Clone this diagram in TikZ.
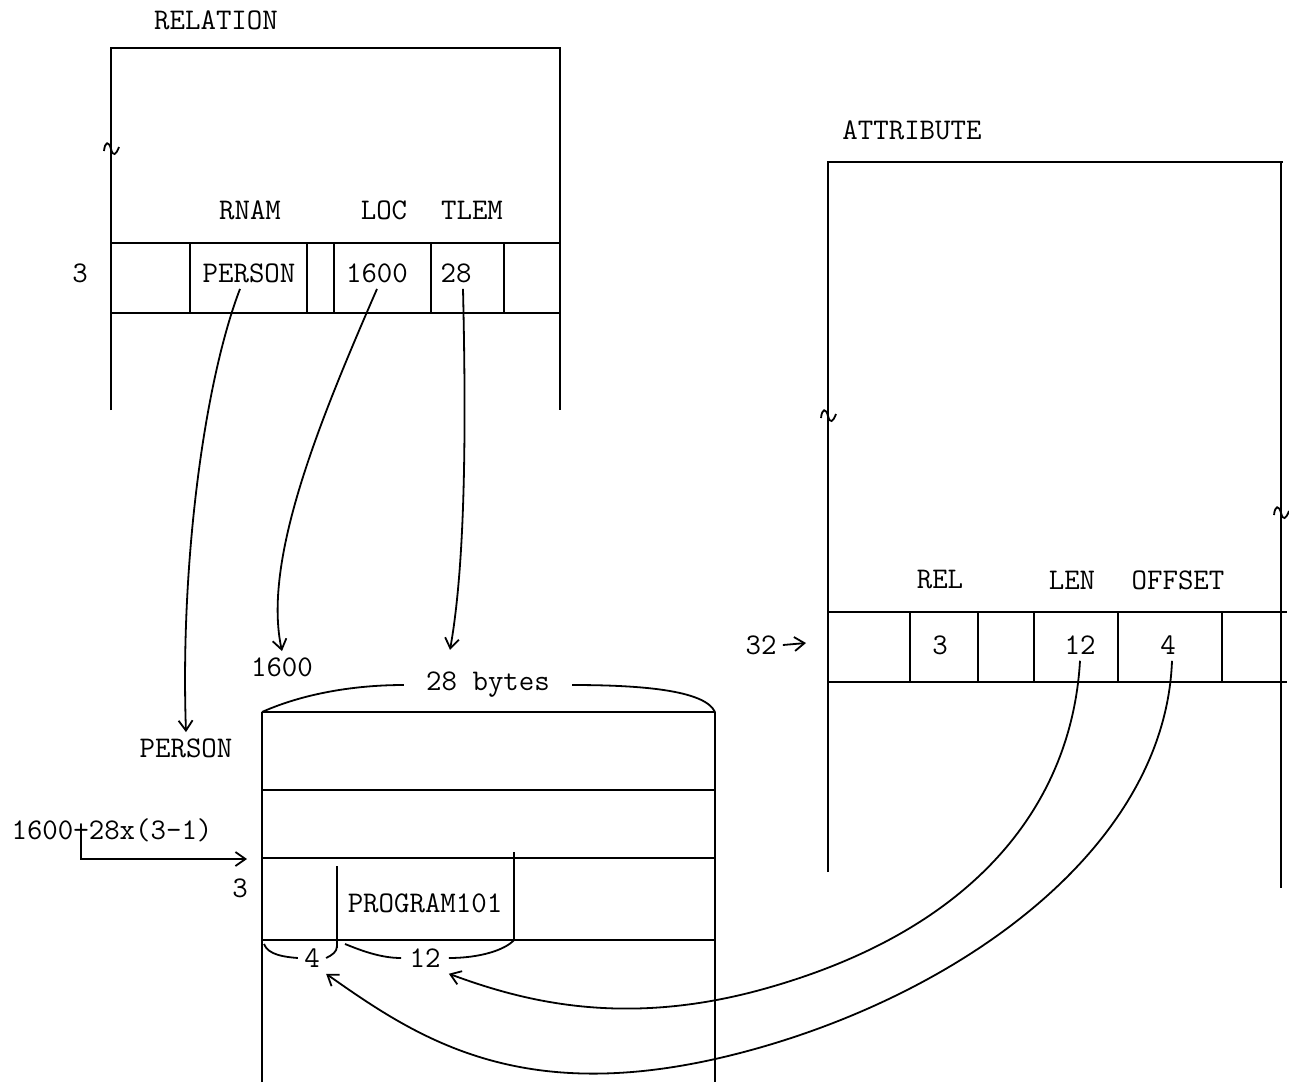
\documentclass[tikz,border=0pt]{standalone}
\usepackage{tikz}
\usetikzlibrary{arrows.meta,positioning}

\begin{document}
\begin{tikzpicture}[x=0.5pt, y=-0.5pt,
    lbl/.style={font=\ttfamily\fontsize{15}{18}\selectfont, inner sep=3pt},
    rule/.style={draw, line width=1pt},
    line/.style={draw, line width=0.9pt, -{Straight Barb[length=5pt,width=7pt]}},
    brace/.style={draw, line width=0.9pt},
    brk/.style={draw, line width=0.9pt}]

    \useasboundingbox (0,0) rectangle (1289,1082);

    % RELATION table
    \node [lbl] (relation) at (216,20) {RELATION};
    \path [rule] (111,410) -- (111,48) -- (560,48) -- (560,410);
    \path [rule] (111,243) -- (560,243) (111,313) -- (560,313);
    \foreach \x in {190,307,334,431,504}
        \path [rule] (\x,243) -- (\x,313);
    \node [lbl] (rnam) at (250,210) {RNAM};
    \node [lbl] (loc) at (384,210) {LOC};
    \node [lbl] (tlem) at (472,210) {TLEM};
    \node [lbl] (rrow) at (80,273) {3};
    \node [lbl] (rperson) at (249,273) {PERSON};
    \node [lbl] (rloc) at (377,273) {1600};
    \node [lbl] (rtlem) at (456,273) {28};

    % ATTRIBUTE table
    \node [lbl] (attribute) at (912,130) {ATTRIBUTE};
    \path [rule] (828,872) -- (828,162) -- (1283,162);
    \path [rule] (1281,162) -- (1281,888);
    \path [rule] (828,612) -- (1287,612) (828,682) -- (1287,682);
    \foreach \x in {910,978,1034,1118,1222}
        \path [rule] (\x,612) -- (\x,682);
    \node [lbl] (rel) at (940,580) {REL};
    \node [lbl] (len) at (1072,580) {LEN};
    \node [lbl] (offset) at (1178,580) {OFFSET};
    \node [lbl] (a32) at (761,645) {32};
    \node [lbl] (arel) at (940,645) {3};
    \node [lbl] (alen) at (1080,645) {12};
    \node [lbl] (aoff) at (1168,645) {4};
    \coordinate (arow) at (806,643);

    % break marks
    \foreach \bx/\by in {111/148, 828/415, 1281/512}
        \path [brk] (\bx,\by) ++(-7,3) .. controls +(1,-10) and +(-2,-8) .. ++(7,-2)
            .. controls +(2,8) and +(-3,8) .. ++(8,-2);

    % PERSON table
    \path [rule] (262,1082) -- (262,712) (715,712) -- (715,1082);
    \foreach \y in {712,790,858,940}
        \path [rule] (262,\y) -- (715,\y);
    \path [rule] (337,866) -- (337,948) (514,852) -- (514,940);
    \node [lbl] (program) at (425,903) {PROGRAM101};
    \node [lbl] (prow) at (240,888) {3};
    \node [lbl] (pperson) at (186,748) {PERSON};
    \node [lbl] (p1600) at (282,667) {1600};
    \node [lbl, inner xsep=11pt] (bytes) at (488,685) {28 bytes};
    \node [lbl] (four) at (312,958) {4};
    \node [lbl, inner xsep=4pt] (twelve) at (425,958) {12};
    \node [lbl] (formula) at (112,830) {1600+28x(3-1)};
    \coordinate (prow3) at (247,859);

    % braces
    \path [brace] (262,712) .. controls (300,695) and (350,685) .. (bytes.west);
    \path [brace] (bytes.east) .. controls (640,685) and (705,690) .. (715,712);
    \path [brace] (264,944) .. controls (268,955) and (285,957) .. (four.west);
    \path [brace] (four.east) .. controls (332,955) and (337,952) .. (337,946);
    \path [brace] (345,944) .. controls (360,950) and (380,958) .. (twelve.west);
    \path [brace] (twelve.east) .. controls (480,958) and (505,950) .. (514,940);

    % pointers
    \path [line] ([xshift=-4.5pt]rperson.south) .. controls (205,380) and (180,560) .. (pperson.north);
    \path [line] (rloc.south) .. controls (320,420) and (262,560) .. (p1600.north);
    \path [line] ([xshift=3.5pt]rtlem.south) .. controls (466,420) and (466,560)
        .. ([xshift=-19pt,yshift=8pt]bytes.north);
    \path [line] ([xshift=-15.5pt]formula.center) |- (prow3);
    \path [line] (a32.east) -- (arow);
    \path [line] (alen.south) .. controls (1072,800) and (980,930) .. (760,990)
        .. controls (620,1028) and (520,1000) .. (twelve.south east);
    \path [line] ([xshift=2pt]aoff.south) .. controls (1165,850) and (956,997) .. (740,1053)
        .. controls (524,1109) and (420,1040) .. (four.south east);
\end{tikzpicture}
\end{document}
